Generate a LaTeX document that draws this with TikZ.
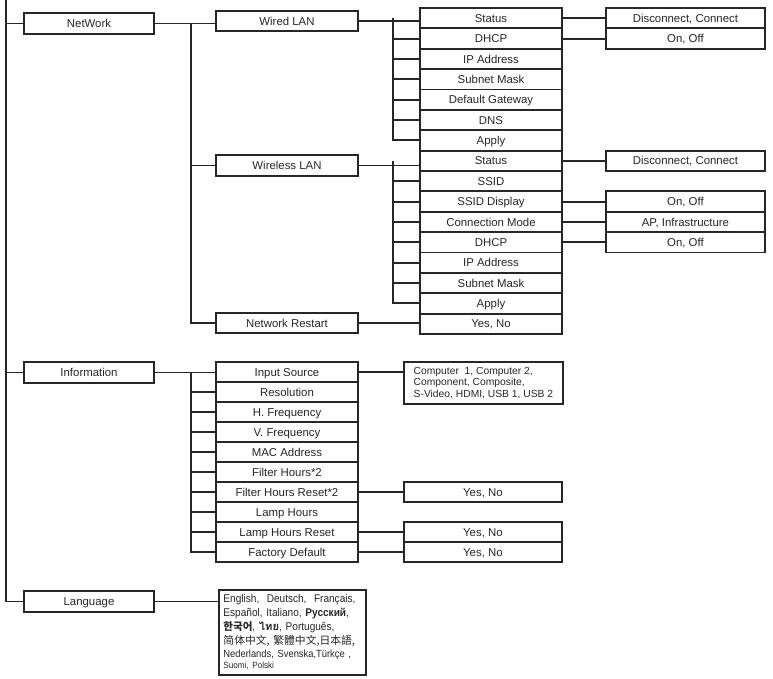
\documentclass[tikz,border=0pt]{standalone}
\usepackage{fontspec}
\setmainfont{Liberation Sans}
\newfontfamily\narrowfont[FakeStretch=0.9]{Liberation Sans}
\newfontfamily\cjk{Noto Sans CJK SC}
\newfontfamily\thaifont[Script=Thai]{Loma}
\usetikzlibrary{positioning,calc}
\definecolor{ink}{HTML}{262626}
\tikzset{
  wire/.style={line width=1.9pt, draw=ink},
  blk/.style={draw=ink, line width=1.9pt, fill=white, minimum width=#1, minimum height=20.4pt,
    inner sep=0pt, text height=8.2pt, text depth=0pt, font=\fontsize{11.4}{13}\selectfont, text=ink},
  blk/.default=142pt,
  lst/.style={draw=ink, line width=1.9pt, fill=white, align=left, inner sep=0pt, text=ink},
}

\begin{document}
\begin{tikzpicture}[x=1pt,y=-1pt]
  \useasboundingbox (0,0) rectangle (773,678);
  \node[blk=130pt] (net) at (89,23.5) {NetWork};
  \node[blk=130pt] (info) at (89,372.5) {Information};
  \node[blk=130pt] (lang) at (89,601.5) {Language};
  \node[blk] (wired) at (287,21) {Wired LAN};
  \node[blk] (wless) at (287,165.5) {Wireless LAN};
  \node[blk] (restart) at (287,323) {Network Restart};
  \foreach \t [count=\i] in {Status,DHCP,IP Address,Subnet Mask,Default Gateway,DNS,Apply,
      Status,SSID,SSID Display,Connection Mode,DHCP,IP Address,Subnet Mask,Apply,{Yes, No}}
    \node[blk] (a\i) at (491,{8+20.375*(\i-0.5)}) {\t};
  \foreach \i/\t in {1/{Disconnect, Connect},2/{On, Off},8/{Disconnect, Connect},
      10/{On, Off},11/{AP, Infrastructure},12/{On, Off}}
    \node[blk=159pt, right=42pt of a\i] (b\i) {\t};
  \foreach \t [count=\i] in {Input Source,Resolution,H. Frequency,V. Frequency,MAC Address,
      Filter Hours*2,Filter Hours Reset*2,Lamp Hours,Lamp Hours Reset,Factory Default}
    \node[blk] (c\i) at (287,{372+20*(\i-1)}) {\t};
  \foreach \i in {7,9,10}
    \node[blk=158pt, right=44pt of c\i] (d\i) {Yes, No};
  \node[lst, minimum width=159pt, minimum height=42pt, anchor=north west,
    font=\fontsize{10.3}{11.5}\selectfont] (inp) at (403,361)
    {Computer\ \ 1, Computer 2,\\Component, Composite,\\S-Video, HDMI, USB 1, USB 2};
  \node[lst, text width=138pt, inner xsep=4.5pt, minimum height=85pt, anchor=north west,
    font=\narrowfont\fontsize{11.2}{14}\selectfont] (langs) at (218,589)
    {English, \ Deutsch, \ Français,\\Español, Italiano, \textbf{Русский},\\
     {\cjk\bfseries\fontsize{10.5}{14}\selectfont 한국어}, {\thaifont\bfseries ไทย}, Português,\\
     {\cjk\fontsize{10.8}{14}\selectfont 简体中文, 繁體中文,日本語,}\\[-1.5pt]
     {\fontsize{10.4}{12}\selectfont Nederlands, Svenska,Türkçe ,}\\[-2.5pt]
     {\fontsize{9}{11}\selectfont Suomi, Polski}};

  \coordinate (top) at (6,0);
  \draw[wire] (top) |- (lang.west);
  \draw[wire] (top |- net.west) -- (net.west);
  \draw[wire] (top |- info.west) -- (info.west);
  \coordinate (nj) at ([xshift=36pt]net.east);
  \draw[wire] (net.east) -- (net.east -| wired.west);
  \draw[wire] (nj) |- (restart.west);
  \draw[wire] (nj |- wless.west) -- (wless.west);

  \coordinate (wj) at ([xshift=-26pt]a1.west);
  \draw[wire] (wired.east) -- (wired.east -| a1.west);
  \draw[wire] (wj) |- (a7.west);
  \foreach \k in {2,...,6} \draw[wire] (wj |- a\k.west) -- (a\k.west);
  \coordinate (sj) at ([xshift=-26pt]a8.west);
  \draw[wire] (wless.east) -- (wless.east -| a8.west);
  \draw[wire] (sj) |- (a15.west);
  \foreach \k in {9,...,14} \draw[wire] (sj |- a\k.west) -- (a\k.west);
  \draw[wire] (restart.east) -- (restart.east -| a16.west);
  \foreach \i in {1,2,8,10,11,12} \draw[wire] (a\i.east) -- (b\i.west);

  \coordinate (ij) at ([xshift=-24pt]c1.west);
  \draw[wire] (info.east) -- (info.east -| c1.west);
  \draw[wire] (ij) |- (c10.west);
  \foreach \k in {2,...,9} \draw[wire] (ij |- c\k.west) -- (c\k.west);
  \draw[wire] (c1.east) -- (c1.east -| inp.west);
  \foreach \i in {7,9,10} \draw[wire] (c\i.east) -- (d\i.west);
  \draw[wire] (lang.east) -- (lang.east -| langs.west);
\end{tikzpicture}
\end{document}
